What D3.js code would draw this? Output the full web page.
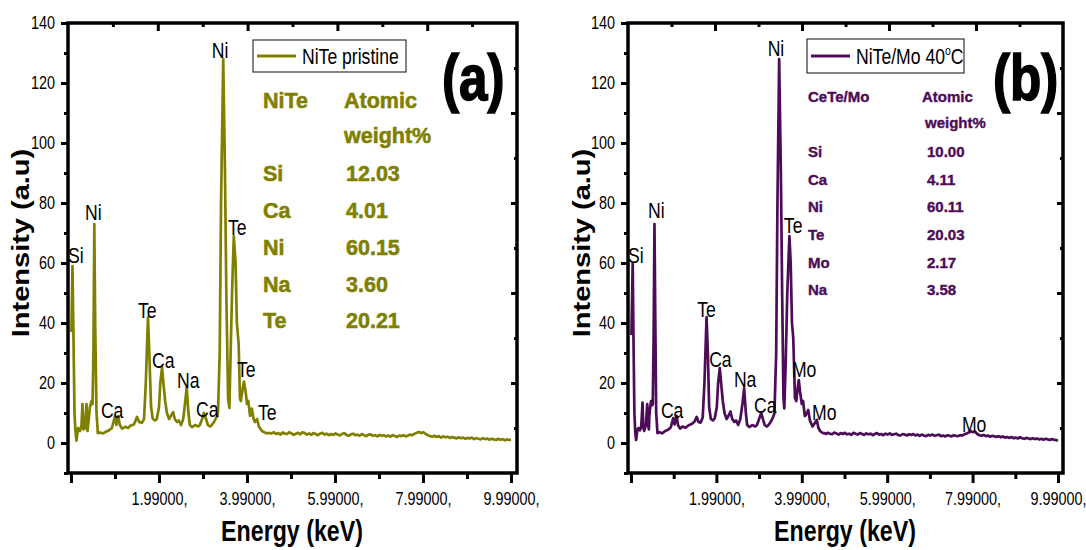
<!DOCTYPE html>
<html><head><meta charset="utf-8">
<script src="https://cdn.jsdelivr.net/npm/d3@7"></script>
<style>body{margin:0;background:#fff}svg{display:block}</style>
</head><body>
<svg id="chart" width="1086" height="550"></svg>
<script>
// ---------------- DATA ----------------
// (energy keV, intensity a.u.)
const spectrumPristine = [
[0.00,37],[0.024,59],[0.047,35],[0.07,10],[0.09,4],[0.115,0.8],[0.15,5],[0.195,4],[0.23,6],[0.25,13],[0.274,4.5],[0.31,5],[0.342,13],[0.365,4],[0.40,9],[0.42,12],[0.456,14],[0.48,13],[0.50,30],[0.52,73],[0.54,40],[0.57,10],[0.60,3.3],[0.65,3.5],[0.72,3.2],[0.79,3.8],[0.85,4.2],[0.92,5],[0.99,9],[1.02,6],[1.06,9],[1.10,6],[1.15,4.8],[1.22,5.4],[1.29,5.0],[1.35,5.8],[1.42,6.2],[1.49,8.7],[1.54,7],[1.60,6.7],[1.65,8],[1.69,20],[1.74,42],[1.77,30],[1.81,12],[1.85,8],[1.90,7.5],[1.94,8],[1.99,12],[2.02,20],[2.06,25.3],[2.09,20],[2.13,14],[2.17,10],[2.22,8],[2.26,9],[2.31,10.3],[2.35,8],[2.40,7],[2.44,7.5],[2.49,6],[2.54,8],[2.58,13],[2.62,18.5],[2.66,10],[2.69,6],[2.74,5.3],[2.81,6],[2.88,5.5],[2.92,6],[2.97,8],[3.01,10],[3.06,8],[3.10,6],[3.15,5.5],[3.19,6],[3.24,7],[3.30,8.7],[3.33,10],[3.37,30],[3.40,80],[3.45,128],[3.49,90],[3.52,50],[3.56,15],[3.59,11.7],[3.61,25],[3.65,50],[3.69,69],[3.73,60],[3.76,40],[3.80,33],[3.83,15],[3.85,14],[3.89,18],[3.92,20.5],[3.96,17],[3.99,13],[4.02,14],[4.06,9],[4.10,11.5],[4.14,8],[4.17,7],[4.22,8],[4.26,5.5],[4.33,4],[4.42,3.3],[4.51,3.3],
[4.55,3.2],[4.6,3.6],[4.65,3.0],[4.7,3.3],[4.75,2.8],[4.8,3.5],[4.85,3.1],[4.9,3.0],[4.95,3.6],[5.0,3.2],[5.05,2.7],[5.1,3.1],[5.15,3.4],[5.2,2.9],[5.25,3.6],[5.3,3.3],[5.35,2.8],[5.4,3.2],[5.45,2.7],[5.5,3.3],[5.55,3.0],[5.6,2.6],[5.65,3.1],[5.7,3.4],[5.75,2.8],[5.8,3.1],[5.85,2.6],[5.9,3.0],[5.95,2.7],[6.0,3.2],[6.05,2.8],[6.1,2.5],[6.15,3.0],[6.2,3.3],[6.25,2.7],[6.3,2.4],[6.35,2.9],[6.4,3.1],[6.45,2.6],[6.5,2.8],[6.55,2.4],[6.6,3.0],[6.65,2.6],[6.7,2.3],[6.75,2.8],[6.8,2.9],[6.85,2.4],[6.9,2.6],[6.95,2.2],[7.0,2.7],[7.05,2.4],[7.1,2.6],[7.15,2.2],[7.2,2.5],[7.25,2.1],[7.3,2.6],[7.35,2.3],[7.4,2.0],[7.45,2.5],[7.5,2.3],[7.55,2.6],[7.6,2.2],[7.65,2.5],[7.7,2.8],[7.75,2.6],[7.8,3.1],[7.85,3.4],[7.9,3.7],[7.95,3.3],[8.0,3.6],[8.05,3.0],[8.1,2.6],[8.15,2.3],[8.2,2.1],[8.25,2.4],[8.3,2.0],[8.35,2.3],[8.4,1.8],[8.45,2.2],[8.5,1.9],[8.55,2.1],[8.6,1.7],[8.65,2.0],[8.7,1.8],[8.75,1.5],[8.8,1.9],[8.85,1.6],[8.9,1.8],[8.95,1.4],[9.0,1.7],[9.05,1.5],[9.1,1.8],[9.15,1.3],[9.2,1.6],[9.25,1.4],[9.3,1.2],[9.35,1.6],[9.4,1.3],[9.45,1.5],[9.5,1.1],[9.55,1.4],[9.6,1.2],[9.65,1.0],[9.7,1.4],[9.75,1.1],[9.8,1.3],[9.85,0.9],[9.9,1.2],[9.95,1.0],[9.99,1.1]
];
const spectrumMo = [
[0.00,36],[0.03,60],[0.05,33],[0.07,10],[0.09,3.5],[0.11,1.0],[0.14,4.5],[0.17,5],[0.20,4.2],[0.23,5.5],[0.26,13.5],[0.28,5],[0.30,4],[0.32,5],[0.34,6],[0.37,13],[0.39,6],[0.41,4.5],[0.42,9],[0.44,12],[0.46,14],[0.48,12.5],[0.50,13],[0.52,35],[0.54,73],[0.56,40],[0.58,10],[0.61,3.3],[0.66,3.6],[0.72,3.2],[0.79,4.0],[0.85,4.3],[0.92,5.2],[0.98,8.3],[1.01,6.2],[1.06,9],[1.09,6],[1.14,4.8],[1.20,5.5],[1.27,5.1],[1.34,5.9],[1.41,6.3],[1.48,7.2],[1.53,8.7],[1.57,7.0],[1.62,6.8],[1.67,8.5],[1.71,20],[1.76,42],[1.79,30],[1.82,12],[1.86,8],[1.91,7.5],[1.95,8.2],[2.00,12],[2.03,20],[2.07,25],[2.10,20],[2.14,14],[2.18,10],[2.23,8],[2.27,9],[2.32,10.5],[2.36,8],[2.41,7],[2.45,7.5],[2.50,6],[2.55,8],[2.60,13],[2.64,18.3],[2.68,10],[2.71,6],[2.76,5.3],[2.83,6],[2.90,5.5],[2.94,6],[2.99,8],[3.04,10],[3.08,8],[3.12,6],[3.17,5.5],[3.21,6],[3.26,7],[3.32,8.7],[3.35,10],[3.39,30],[3.42,80],[3.46,128],[3.50,90],[3.53,50],[3.56,15],[3.58,11.5],[3.61,25],[3.65,50],[3.70,69],[3.73,60],[3.76,40],[3.79,35],[3.83,15],[3.86,14],[3.89,18],[3.92,21],[3.95,17],[3.99,13],[4.02,14],[4.06,9],[4.09,9.5],[4.14,11],[4.18,7.5],[4.24,5.5],[4.29,6.5],[4.34,7.7],[4.38,5],[4.42,4],[4.47,3.4],[4.52,3.3],
[4.55,3.0],[4.6,3.4],[4.65,3.1],[4.7,2.9],[4.75,3.5],[4.8,3.2],[4.85,2.8],[4.9,3.3],[4.95,3.0],[5.0,3.4],[5.05,2.9],[5.1,3.1],[5.15,2.7],[5.2,3.4],[5.25,3.1],[5.3,2.8],[5.35,3.3],[5.4,3.0],[5.45,2.7],[5.5,3.2],[5.55,2.9],[5.6,3.1],[5.65,2.6],[5.7,3.0],[5.75,3.3],[5.8,2.8],[5.85,3.0],[5.9,2.6],[5.95,3.1],[6.0,2.8],[6.05,3.2],[6.1,2.7],[6.15,2.9],[6.2,3.1],[6.25,2.6],[6.3,2.5],[6.35,3.0],[6.4,2.8],[6.45,2.5],[6.5,2.9],[6.55,2.7],[6.6,3.0],[6.65,2.5],[6.7,2.8],[6.75,2.4],[6.8,2.8],[6.85,2.5],[6.9,2.3],[6.95,2.7],[7.0,2.5],[7.05,2.8],[7.1,2.4],[7.15,2.6],[7.2,2.8],[7.25,2.3],[7.3,2.5],[7.35,2.2],[7.4,2.6],[7.45,2.4],[7.5,2.2],[7.55,2.6],[7.6,2.4],[7.65,2.3],[7.7,2.6],[7.75,2.5],[7.8,2.9],[7.85,3.2],[7.9,3.5],[7.95,3.9],[8.0,3.6],[8.05,3.8],[8.1,3.0],[8.15,2.6],[8.2,2.4],[8.25,2.7],[8.3,2.3],[8.35,2.5],[8.4,2.1],[8.45,2.4],[8.5,2.2],[8.55,2.0],[8.6,2.3],[8.65,1.9],[8.7,2.2],[8.75,1.8],[8.8,2.0],[8.85,1.7],[8.9,2.0],[8.95,1.6],[9.0,1.8],[9.05,1.5],[9.1,1.9],[9.15,1.6],[9.2,1.4],[9.25,1.7],[9.3,1.5],[9.35,1.3],[9.4,1.6],[9.45,1.3],[9.5,1.5],[9.55,1.2],[9.6,1.4],[9.65,1.1],[9.7,1.4],[9.75,1.2],[9.8,1.0],[9.85,1.3],[9.9,1.1],[9.95,0.9],[9.99,1.0]
];

// peak annotations: element names and anchor (keV, intensity)
const peakNamesA = ["Si","Ni","Ca","Te","Ca","Na","Ca","Ni","Te","Te","Te"];
const peakXA     = [-0.08,0.31,0.67,1.51,1.83,2.40,2.83,3.19,3.56,3.76,4.24];
const peakYA     = [60,74.3,8.3,41.7,25,18.3,8.7,128.3,69.3,22,7.7];
const peakNamesB = ["Si","Ni","Ca","Te","Ca","Na","Ca","Ni","Te","Mo","Mo","Mo"];
const peakXB     = [-0.08,0.39,0.69,1.54,1.82,2.40,2.87,3.19,3.57,3.76,4.23,7.74];
const peakYB     = [60,75,8.3,42,25.3,18.7,10,129,70,22,7.7,3.7];

// composition tables
const tableHeadA = ["NiTe","Atomic","weight%"];
const elementsA  = ["Si","Ca","Ni","Na","Te"];
const weightsA   = ["12.03","4.01","60.15","3.60","20.21"];
const tableHeadB = ["CeTe/Mo","Atomic","weight%"];
const elementsB  = ["Si","Ca","Ni","Te","Mo","Na"];
const weightsB   = ["10.00","4.11","60.11","20.03","2.17","3.58"];

const seriesNames = ["NiTe pristine","NiTe/Mo 40"];
const panelTags = ["(a)","(b)"];

// ticks
const xMajorTicks = [-0.01,1.99,3.99,5.99,7.99,9.99];
const xMajorLabels = ["","1.99000,","3.99000,","5.99000,","7.99000,","9.99000,"];
const xMinorTicks = [0.99,2.99,4.99,6.99,8.99];
const yMajorTicks = [0,20,40,60,80,100,120,140];
const yMinorTicks = [-10,10,30,50,70,90,110,130];

// ---------------- LAYOUT ----------------
const FONT = "'Liberation Sans', Arial, Helvetica, sans-serif";
const SQ = 0.8; // horizontal squeeze of the original figure text
const OLIVE = "#808000", PURPLE = "#4c0c58";

const panels = [
  {left:68, right:517, top:23, bottom:473, xd:[-0.078,10.126], data:spectrumPristine, color:OLIVE,
   names:peakNamesA, px:peakXA, py:peakYA, series:seriesNames[0], tag:panelTags[0],
   legend:{x:253,y:40,w:153,h:32}, tagX:442,
   yTitleX:29, xTitleX:292},
  {left:628, right:1063, top:23, bottom:473, xd:[-0.08,10.107], data:spectrumMo, color:PURPLE,
   names:peakNamesB, px:peakXB, py:peakYB, series:seriesNames[1], tag:panelTags[1],
   legend:{x:807,y:39,w:157,h:34}, tagX:993,
   yTitleX:590, xTitleX:845}
];

const svg = d3.select("#chart");

function sqText(g, x, y, str, size, opts={}) {
  const t = g.append("text")
    .attr("transform", `translate(${x},${y}) scale(${SQ},1)` + (opts.rotate ? " rotate(-90)" : ""))
    .attr("font-family", FONT).attr("font-size", size)
    .attr("font-weight", opts.weight || "normal")
    .attr("fill", opts.fill || "#000")
    .attr("text-anchor", opts.anchor || "start")
    .text(str);
  return t;
}

panels.forEach((p, pi) => {
  const g = svg.append("g");
  const x = d3.scaleLinear().domain(p.xd).range([p.left, p.right]);
  const y = d3.scaleLinear().domain([-10,140]).range([p.bottom, p.top]);

  // spectrum
  g.append("path").datum(p.data)
    .attr("fill","none").attr("stroke",p.color).attr("stroke-width",2.7)
    .attr("stroke-linejoin","round")
    .attr("d", d3.line().x(d=>x(d[0])).y(d=>y(d[1])));

  // bottom axis major
  g.append("g").attr("transform",`translate(0,${p.bottom})`)
    .call(d3.axisBottom(x).tickValues(xMajorTicks).tickSize(10).tickPadding(9)
      .tickFormat((d,i)=>xMajorLabels[i]));
  g.append("g").attr("transform",`translate(0,${p.bottom})`)
    .call(d3.axisBottom(x).tickValues(xMinorTicks).tickSize(6).tickFormat(""));
  // left axis
  const lMaj = g.append("g").attr("transform",`translate(${p.left},0)`)
    .call(d3.axisLeft(y).tickValues(yMajorTicks).tickSize(7).tickFormat(d=>d));
  g.append("g").attr("transform",`translate(${p.left},0)`)
    .call(d3.axisLeft(y).tickValues(yMinorTicks).tickSize(4).tickFormat(""));
  // top axis (10 equal divisions, inward)
  const span = p.xd[1]-p.xd[0];
  const topMaj = d3.range(2,10,2).map(k=>p.xd[0]+k*span/10);
  const topMin = d3.range(1,10,2).map(k=>p.xd[0]+k*span/10);
  g.append("g").attr("transform",`translate(0,${p.top})`)
    .call(d3.axisBottom(x).tickValues(topMaj).tickSize(8).tickFormat(""));
  g.append("g").attr("transform",`translate(0,${p.top})`)
    .call(d3.axisBottom(x).tickValues(topMin).tickSize(4).tickFormat(""));
  // right axis (10 equal divisions, inward)
  const rMaj = d3.range(2,10,2).map(k=>-10+k*15);
  const rMin = d3.range(1,10,2).map(k=>-10+k*15);
  g.append("g").attr("transform",`translate(${p.right},0)`)
    .call(d3.axisLeft(y).tickValues(rMaj).tickSize(6).tickFormat(""));
  g.append("g").attr("transform",`translate(${p.right},0)`)
    .call(d3.axisLeft(y).tickValues(rMin).tickSize(3).tickFormat(""));

  g.selectAll(".domain").remove();
  g.selectAll(".tick line").attr("stroke","#000").attr("stroke-width",3);
  g.selectAll(".tick text").attr("font-family",FONT).attr("font-size",18).attr("fill","#000")
    .attr("transform",`scale(${SQ},1)`);
  lMaj.selectAll(".tick text").attr("x",-13/SQ);

  // frame
  g.append("rect").attr("x",p.left).attr("y",p.top)
    .attr("width",p.right-p.left).attr("height",p.bottom-p.top)
    .attr("fill","none").attr("stroke","#000").attr("stroke-width",3.5);

  // peak labels
  p.names.forEach((n,i)=>{ sqText(g, x(p.px[i]), y(p.py[i]), n, 22); });

  // axis titles
  sqText(g, p.yTitleX, (p.top+p.bottom)/2 - 5, "Intensity (a.u)", 29, {weight:"bold", anchor:"middle", rotate:true});
  sqText(g, p.xTitleX, 541, "Energy (keV)", 29, {weight:"bold", anchor:"middle"});

  // legend
  const L = p.legend;
  g.append("rect").attr("x",L.x).attr("y",L.y).attr("width",L.w).attr("height",L.h)
    .attr("fill","#fff").attr("stroke","#333").attr("stroke-width",1.2);
  g.append("line").attr("x1",L.x+4).attr("x2",L.x+43).attr("y1",L.y+L.h/2).attr("y2",L.y+L.h/2)
    .attr("stroke",p.color).attr("stroke-width",3);
  const lt = sqText(g, L.x+49, L.y+L.h/2+8, p.series, 22);
  if (pi===1) {
    lt.append("tspan").attr("font-size",13).attr("dy",-9).text("o");
    lt.append("tspan").attr("dy",9).text("C");
  }

  // panel tag
  sqText(g, p.tagX, 100, p.tag, 64, {weight:"bold"})
    .attr("stroke","#000").attr("stroke-width",1.6);
});

// composition tables
function table(head, els, vals, color, size, x1, x2, baseH, rowStep, x2b) {
  const g = svg.append("g").attr("font-family",FONT).attr("font-weight","bold")
    .attr("font-size",size).attr("fill",color)
    .attr("stroke",color).attr("stroke-width",size*0.025);
  g.append("text").attr("x",x1).attr("y",baseH).text(head[0]);
  g.append("text").attr("x",x2).attr("y",baseH).text(head[1]);
  g.append("text").attr("x",x2b).attr("y",baseH+rowStep*0.95).text(head[2]);
  els.forEach((e,i)=>{
    const yy = baseH + rowStep*(i+2);
    g.append("text").attr("x",x1).attr("y",yy).text(e);
    g.append("text").attr("x",x2b+2).attr("y",yy).text(vals[i]);
  });
}
table(tableHeadA, elementsA, weightsA, OLIVE, 21.5, 263, 344, 108, 36.7, 344);
table(tableHeadB, elementsB, weightsB, PURPLE, 15, 808, 922, 102, 27.6, 925);
</script>
</body></html>
